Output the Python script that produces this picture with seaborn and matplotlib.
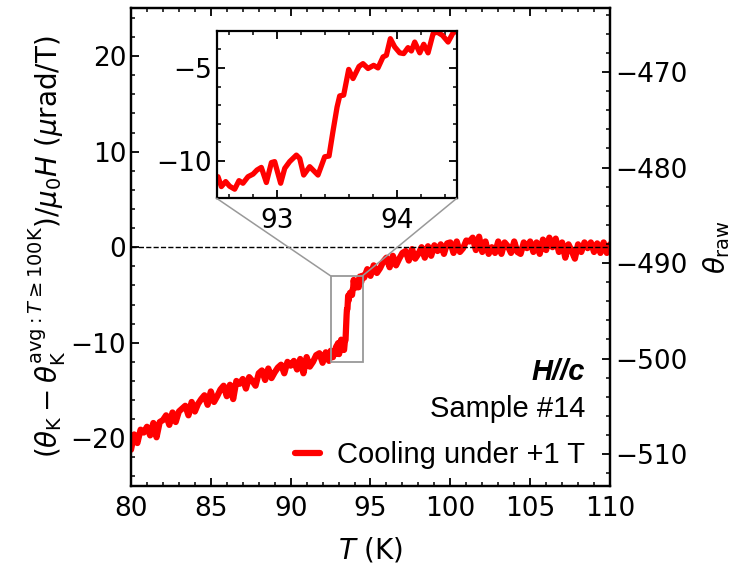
import matplotlib
matplotlib.use("Agg")
import matplotlib.pyplot as plt
import numpy as np
import pandas as pd
import seaborn as sns
from matplotlib.patches import ConnectionPatch
from matplotlib.ticker import MultipleLocator

# ---------------- data ----------------
T_low = [80.0, 80.2, 80.4, 80.6, 80.8, 81.0, 81.2, 81.4, 81.6, 81.8,
         82.0, 82.2, 82.4, 82.6, 82.8, 83.0, 83.2, 83.4, 83.6, 83.8,
         84.0, 84.2, 84.4, 84.6, 84.8, 85.0, 85.2, 85.4, 85.6, 85.8,
         86.0, 86.2, 86.4, 86.6, 86.8, 87.0, 87.2, 87.4, 87.6, 87.8,
         88.0, 88.2, 88.4, 88.6, 88.8, 89.0, 89.2, 89.4, 89.6, 89.8,
         90.0, 90.2, 90.4, 90.6, 90.8, 91.0, 91.2, 91.4, 91.6, 91.8,
         92.0, 92.2, 92.4]
theta_low = [-21.2, -19.6, -20.5, -19.1, -19.4, -18.8, -19.7, -18.4, -19.9, -18.3,
             -18.1, -17.6, -18.6, -17.3, -18.3, -17.2, -16.9, -16.6, -17.6, -16.2,
             -17.2, -16.4, -15.9, -15.5, -16.5, -15.1, -16.2, -15.6, -14.9, -14.5,
             -15.6, -14.4, -15.9, -14.0, -14.3, -13.8, -14.8, -13.6, -14.0, -14.5,
             -13.2, -12.9, -13.9, -12.7, -13.7, -13.1, -12.6, -12.3, -13.2, -12.0,
             -12.4, -11.9, -12.8, -11.7, -13.2, -11.5, -12.5, -12.0, -11.3, -11.1,
             -12.1, -11.0, -11.9]

T_mid = [92.511, 92.539, 92.575, 92.608, 92.650, 92.686, 92.719, 92.761, 92.803, 92.836,
         92.872, 92.914, 92.956, 92.983, 93.033, 93.067, 93.108, 93.164, 93.192, 93.225,
         93.275, 93.344, 93.400, 93.436, 93.469, 93.503, 93.525, 93.558, 93.600, 93.636,
         93.686, 93.719, 93.761, 93.808, 93.844, 93.886, 93.914, 93.947, 93.983, 94.025,
         94.058, 94.094, 94.122, 94.150, 94.192, 94.225, 94.261, 94.303, 94.336, 94.381,
         94.428, 94.469, 94.511]
theta_mid = [-10.84, -11.37, -11.10, -11.35, -11.51, -11.05, -11.19, -10.84, -10.70, -10.48,
             -10.34, -11.15, -10.08, -10.03, -11.19, -10.39, -10.03, -9.68, -9.86, -10.75,
             -10.30, -10.75, -9.77, -9.73, -8.40, -7.10, -6.50, -6.46, -5.08, -5.57,
             -4.92, -4.77, -5.03, -4.86, -5.00, -4.41, -4.32, -3.43, -3.87, -4.19,
             -4.23, -3.91, -4.09, -3.61, -4.19, -3.73, -4.19, -3.16, -3.07, -3.25,
             -3.61, -3.12, -2.98]

T_high = [94.6, 94.8,
          95.0, 95.2, 95.4, 95.6, 95.8, 96.0, 96.2, 96.4, 96.6, 96.8,
          97.0, 97.2, 97.4, 97.6, 97.8, 98.0, 98.2, 98.4, 98.6, 98.8,
          99.0, 99.2, 99.4, 99.6, 99.8, 100.0, 100.2, 100.4, 100.6, 100.8,
          101.0, 101.2, 101.4, 101.6, 101.8, 102.0, 102.2, 102.4, 102.6, 102.8,
          103.0, 103.2, 103.4, 103.6, 103.8, 104.0, 104.2, 104.4, 104.6, 104.8,
          105.0, 105.2, 105.4, 105.6, 105.8, 106.0, 106.2, 106.4, 106.6, 106.8,
          107.0, 107.2, 107.4, 107.6, 107.8, 108.0, 108.2, 108.4, 108.6, 108.8,
          109.0, 109.2, 109.4, 109.6, 109.8, 110.0]
theta_high = [-3.2, -2.3,
              -3.0, -1.9, -2.7, -2.2, -1.5, -1.1, -2.1, -0.9, -1.9, -1.2,
              -0.6, -0.4, -1.4, -0.2, -1.2, -0.7, 0.0, -1.1, 0.1, -0.9,
              0.2, -0.4, 0.3, -0.7, 0.4, 0.5, -0.6, 0.6, -0.5, -0.1,
              0.7, 0.6, 1.0, -0.3, 1.1, -0.5, 0.6, -0.7, 0.0, -0.6,
              0.6, -0.7, 0.5, 0.1, -0.6, 0.6, -0.5, -0.7, 0.5, -0.1,
              0.6, -0.5, 0.5, -0.7, 0.8, -0.3, 1.0, 0.0, 0.9, -0.5,
              0.5, -1.1, 0.3, -0.4, -1.2, 0.3, -0.5, 0.5, -0.1, 0.5,
              -0.5, 0.4, -0.6, 0.5, -0.6, 0.3]

RAW_OFFSET = -488.34   # theta_raw = theta_norm + offset (right axis)
label_main = "Cooling under +1 T"

T_all = T_low + T_mid + T_high
theta_all = theta_low + theta_mid + theta_high
df = pd.DataFrame({"T": T_all, "theta": theta_all})

# ---------------- style ----------------
sns.set_style("ticks")
plt.rcParams["font.family"] = ["DejaVu Sans"]
plt.rcParams["mathtext.fontset"] = "dejavusans"
plt.rcParams.update({
    "xtick.direction": "in", "ytick.direction": "in",
    "xtick.major.size": 6, "ytick.major.size": 6,
    "xtick.minor.size": 3, "ytick.minor.size": 3,
    "xtick.major.width": 1.3, "ytick.major.width": 1.3,
    "xtick.minor.width": 1.1, "ytick.minor.width": 1.1,
    "axes.linewidth": 1.6, "axes.edgecolor": "black",
    "xtick.color": "black", "ytick.color": "black",
    "xtick.labelcolor": "black", "ytick.labelcolor": "black",
    "text.color": "black", "axes.labelcolor": "black",
    "xtick.labelsize": 19, "ytick.labelsize": 19,
})
TXT = ["Liberation Sans", "DejaVu Sans"]

fig = plt.figure(figsize=(7.33, 5.66), dpi=100)
ax = fig.add_axes([0.1787, 0.1413, 0.6535, 0.8439])

sns.lineplot(data=df, x="T", y="theta", ax=ax, color="red", lw=4.5,
             estimator=None, sort=False, label=label_main)
ax.axhline(0, color="black", ls="--", lw=1.0, zorder=4)

ax.set_xlim(80, 110)
ax.set_ylim(-25, 25)
ax.xaxis.set_major_locator(MultipleLocator(5))
ax.xaxis.set_minor_locator(MultipleLocator(1))
ax.yaxis.set_major_locator(MultipleLocator(10))
ax.yaxis.set_minor_locator(MultipleLocator(2))
ax.tick_params(which="both", top=True, right=False, bottom=True, left=True)
ax.tick_params(axis="x", pad=7)
ax.set_xlabel("$T$ (K)", fontsize=20, labelpad=10)
ax.set_ylabel(r"$(\theta_{\rm K}-\theta_{\rm K}^{{\rm avg}:T\geq100{\rm K}})/\mu_0H$ ($\mu$rad/T)",
              fontsize=20, labelpad=2)

ax2 = ax.twinx()
ax2.set_ylim(-25 + RAW_OFFSET, 25 + RAW_OFFSET)
ax2.yaxis.set_major_locator(MultipleLocator(10))
ax2.yaxis.set_minor_locator(MultipleLocator(2))
ax2.tick_params(which="both", direction="in", right=True, left=False)
ax2.set_ylabel(r"$\theta_{\rm raw}$", fontsize=20, labelpad=10)

leg = ax.legend(loc="lower right", bbox_to_anchor=(0.948, 0.035), frameon=False,
                prop={"family": TXT, "size": 21}, handlelength=0.85,
                handletextpad=0.6, borderpad=0, borderaxespad=0)
for h in leg.get_lines():
    h.set_linewidth(4.5)

ax.text(0.948, 0.222, "H//c", transform=ax.transAxes, ha="right", va="baseline",
        fontsize=21, fontweight="bold", fontstyle="italic", family=TXT)
ax.text(0.948, 0.145, "Sample #14", transform=ax.transAxes, ha="right", va="baseline",
        fontsize=21, family=TXT)

# ---------------- inset ----------------
axins = fig.add_axes([0.2956, 0.6496, 0.3275, 0.2962])
axins.set_facecolor("white")
sns.lineplot(data=df, x="T", y="theta", ax=axins, color="red", lw=3.8,
             estimator=None, sort=False, legend=False)
axins.set_xlim(92.5, 94.5)
axins.set_ylim(-12, -3)
axins.xaxis.set_major_locator(MultipleLocator(1))
axins.xaxis.set_minor_locator(MultipleLocator(0.2))
axins.yaxis.set_major_locator(MultipleLocator(5))
axins.yaxis.set_minor_locator(MultipleLocator(1))
axins.tick_params(which="both", top=True, right=True, direction="in")
axins.tick_params(axis="x", pad=7)
axins.set_xlabel("")
axins.set_ylabel("")

x0, x1 = axins.get_xlim()
y0, y1 = axins.get_ylim()
ax.indicate_inset([x0, y0, x1 - x0, y1 - y0], edgecolor="0.6", alpha=1, lw=1.3, zorder=5)
for corner_ins, corner_rect in [((0, 0), (x0, y1)), ((1, 0), (x1, y1))]:
    cp = ConnectionPatch(xyA=corner_ins, coordsA=axins.transAxes,
                         xyB=corner_rect, coordsB=ax.transData,
                         color="0.6", lw=1.1)
    fig.add_artist(cp)

fig.savefig("out.png", dpi=100)
